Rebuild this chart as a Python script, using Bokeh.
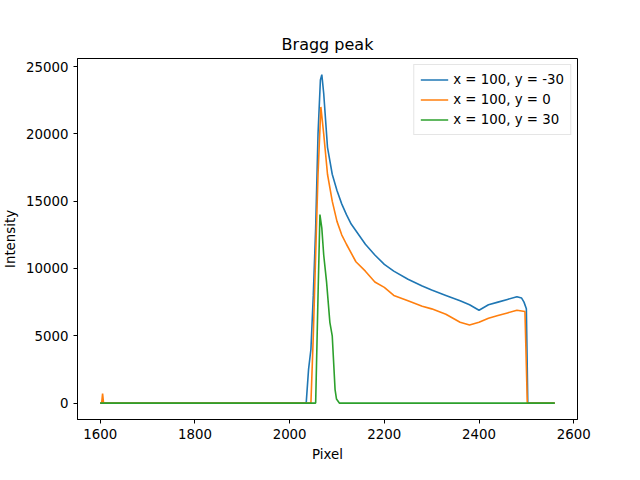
from bokeh.embed import file_html
from bokeh.resources import INLINE
from bokeh.models import Range1d, Legend, LegendItem
from bokeh.plotting import figure

# x = 100, y = -30
x_blue = [1600, 2035, 2040, 2045, 2050, 2055, 2060, 2065, 2068, 2072, 2076, 2080, 2090, 2100, 2110, 2120, 2130, 2140,
          2160, 2180, 2200, 2220, 2250, 2280, 2300, 2330, 2360, 2380, 2400, 2420, 2440, 2460, 2480, 2490,
          2495, 2500, 2503, 2560]
y_blue = [0, 0, 2500, 4000, 8000, 13000, 20000, 24000, 24400, 23000, 21000, 19000, 17000, 15800, 14800, 14000, 13300,
          12800, 11800, 11000, 10300, 9800, 9200, 8700, 8400, 8000, 7600, 7300, 6900, 7300, 7500, 7700, 7900, 7800,
          7500, 7000, 0, 0]
# x = 100, y = 0
x_orange = [1600, 1603, 1605, 1607, 2045, 2050, 2055, 2060, 2066, 2072, 2080, 2090, 2100, 2110, 2120, 2140, 2160,
            2180, 2200, 2220, 2250, 2280, 2300, 2330, 2360, 2380, 2400, 2420, 2440, 2460, 2480, 2497, 2502, 2560]
y_orange = [0, 0, 700, 0, 0, 5000, 11000, 17000, 22000, 20000, 17000, 15000, 13500, 12500, 11800, 10500, 9800,
            9000, 8600, 8000, 7600, 7200, 7000, 6600, 6000, 5800, 6000, 6300, 6500, 6700, 6900, 6800, 0, 0]
# x = 100, y = 30
x_green = [1600, 2055, 2060, 2064, 2068, 2072, 2078, 2085, 2090, 2093, 2096, 2099, 2105, 2560]
y_green = [0, 0, 8000, 14000, 13000, 11000, 9000, 6000, 5000, 3000, 1000, 300, 0, 0]

p = figure(width=624, height=464, output_backend="svg", toolbar_location=None,
           title="Bragg peak", x_range=Range1d(1552, 2608), y_range=Range1d(-1220, 25600),
           min_border_left=72, min_border_right=47, min_border_top=58, min_border_bottom=38)
p.title.align = "center"
p.title.text_font_style = "normal"
p.title.text_font = "DejaVu Sans"
p.title.text_font_size = "12pt"
p.title.text_color = "black"
p.grid.visible = False
p.outline_line_color = "black"
p.xaxis.axis_label = "Pixel"
p.yaxis.axis_label = "Intensity"
for ax in (p.xaxis, p.yaxis):
    ax.axis_label_text_font_style = "normal"
    ax.axis_label_text_font = "DejaVu Sans"
    ax.axis_label_text_font_size = "10pt"
    ax.axis_label_text_color = "black"
    ax.major_label_text_font = "DejaVu Sans"
    ax.major_label_text_font_size = "10pt"
    ax.major_label_text_color = "black"
    ax.axis_line_color = "black"
    ax.major_tick_line_color = "black"
    ax.minor_tick_line_color = None
    ax.major_tick_in = 0
    ax.major_tick_out = 4
p.xaxis.ticker = [1600, 1800, 2000, 2200, 2400, 2600]
p.yaxis.ticker = [0, 5000, 10000, 15000, 20000, 25000]

r1 = p.line(x_blue, y_blue, line_color="#1f77b4", line_width=1.6)
r2 = p.line(x_orange, y_orange, line_color="#ff7f0e", line_width=1.6)
r3 = p.line(x_green, y_green, line_color="#2ca02c", line_width=1.6)

legend = Legend(items=[LegendItem(label="x = 100, y = -30", renderers=[r1]),
                       LegendItem(label="x = 100, y = 0", renderers=[r2]),
                       LegendItem(label="x = 100, y = 30", renderers=[r3])],
                location="top_right", label_text_font="DejaVu Sans", label_text_font_size="10pt",
                label_text_color="black", border_line_color="#cccccc", spacing=3, padding=6, margin=6,
                label_height=17, glyph_height=17, glyph_width=28)
p.add_layout(legend)

open("out.html", "w").write(file_html(p, INLINE))
